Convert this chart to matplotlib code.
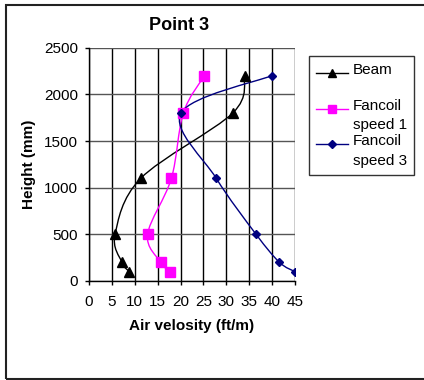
import matplotlib
matplotlib.use("Agg")
import matplotlib.pyplot as plt
import numpy as np
from matplotlib.path import Path
from matplotlib.patches import PathPatch, Rectangle
from matplotlib.lines import Line2D
from matplotlib.legend_handler import HandlerLine2D

plt.rcParams['font.family'] = ['Liberation Sans', 'DejaVu Sans']

heights = [100, 200, 500, 1100, 1800, 2200]
beam = [8.8, 7.2, 5.7, 11.3, 31.4, 34.0]
fancoil1 = [17.7, 15.7, 12.8, 18.0, 20.6, 25.2]
fancoil3 = [45.0, 41.6, 36.5, 27.8, 20.1, 39.9]
series_labels = ["Beam\n", "Fancoil\nspeed 1", "Fancoil\nspeed 3"]
x_ticks = list(range(0, 50, 5))
y_ticks = list(range(0, 3000, 500))

LEG_FS = 11
LEG_LS = 1.5


def smooth_path(xs, ys):
    pts = np.column_stack([xs, ys]).astype(float)
    n = len(pts)
    verts = [pts[0]]
    codes = [Path.MOVETO]
    for i in range(n - 1):
        p0 = pts[i - 1] if i > 0 else pts[i]
        p1 = pts[i]
        p2 = pts[i + 1]
        p3 = pts[i + 2] if i + 2 < n else pts[i + 1]
        c1 = p1 + (p2 - p0) / 6.0
        c2 = p2 - (p3 - p1) / 6.0
        verts += [c1, c2, p2]
        codes += [Path.CURVE4] * 3
    return Path(verts, codes)


class FirstLineHandler(HandlerLine2D):
    def create_artists(self, legend, orig_handle, xdescent, ydescent,
                       width, height, fontsize, trans):
        shift = 0.6 * LEG_LS * fontsize
        return super().create_artists(legend, orig_handle, xdescent,
                                      ydescent - shift, width, height,
                                      fontsize, trans)


fig = plt.figure(figsize=(4.24, 3.8), dpi=100)
ax = fig.add_axes([89 / 424, 1 - 281 / 380, (295 - 89) / 424, (281 - 47.7) / 380])

styles = [
    (beam, 'black', '^', 6.5),
    (fancoil1, '#ff00ff', 's', 6.5),
    (fancoil3, '#000080', 'D', 4.5),
]
handles = []
for (vals, col, mk, ms), lab in zip(styles, series_labels):
    ax.add_patch(PathPatch(smooth_path(vals, heights), facecolor='none',
                           edgecolor=col, lw=1.0, zorder=3))
    ax.plot(vals, heights, linestyle='none', marker=mk, color=col,
            markersize=ms, zorder=4)
    handles.append(Line2D([], [], color=col, marker=mk, markersize=ms - 0.5,
                          lw=1.0, label=lab))

ax.set_xlim(0, 45)
ax.set_ylim(0, 2500)
ax.set_xticks(x_ticks)
ax.set_yticks(y_ticks)
ax.tick_params(direction='out', length=3, width=1, labelsize=11, color='black', pad=7)
ax.tick_params(axis='y', pad=5)
ax.xaxis.grid(True, color='black', lw=1)
ax.yaxis.grid(True, color='#555555', lw=1)
ax.set_axisbelow(True)
for s in ['top', 'right']:
    ax.spines[s].set_visible(False)
for s in ['left', 'bottom']:
    ax.spines[s].set_color('black')
    ax.spines[s].set_linewidth(1)

fig.text(179 / 424, 1 - 26 / 380, "Point 3", fontsize=13, fontweight='bold',
         ha='center', va='center')
ax.set_xlabel("Air velosity (ft/m)", fontsize=11, fontweight='bold', labelpad=7)
ax.set_ylabel("Height (mm)", fontsize=11, fontweight='bold', labelpad=6)

leg = fig.legend(handles=handles, loc='upper left',
                 bbox_to_anchor=(309 / 424, 1 - 56 / 380), fontsize=LEG_FS,
                 frameon=True, fancybox=False, edgecolor='black',
                 handlelength=2.1, handletextpad=0.3, borderpad=0.45,
                 labelspacing=0.15, borderaxespad=0,
                 handler_map={Line2D: FirstLineHandler()})
for t in leg.get_texts():
    t.set_linespacing(LEG_LS)
leg.get_frame().set_linewidth(1)

fig.patches.append(Rectangle((6 / 424, 1.5 / 380), 1.1, 1 - 6.5 / 380,
                             transform=fig.transFigure, fill=False,
                             edgecolor='#222222', lw=1.5, clip_on=False))

fig.savefig("out.png", dpi=100)
